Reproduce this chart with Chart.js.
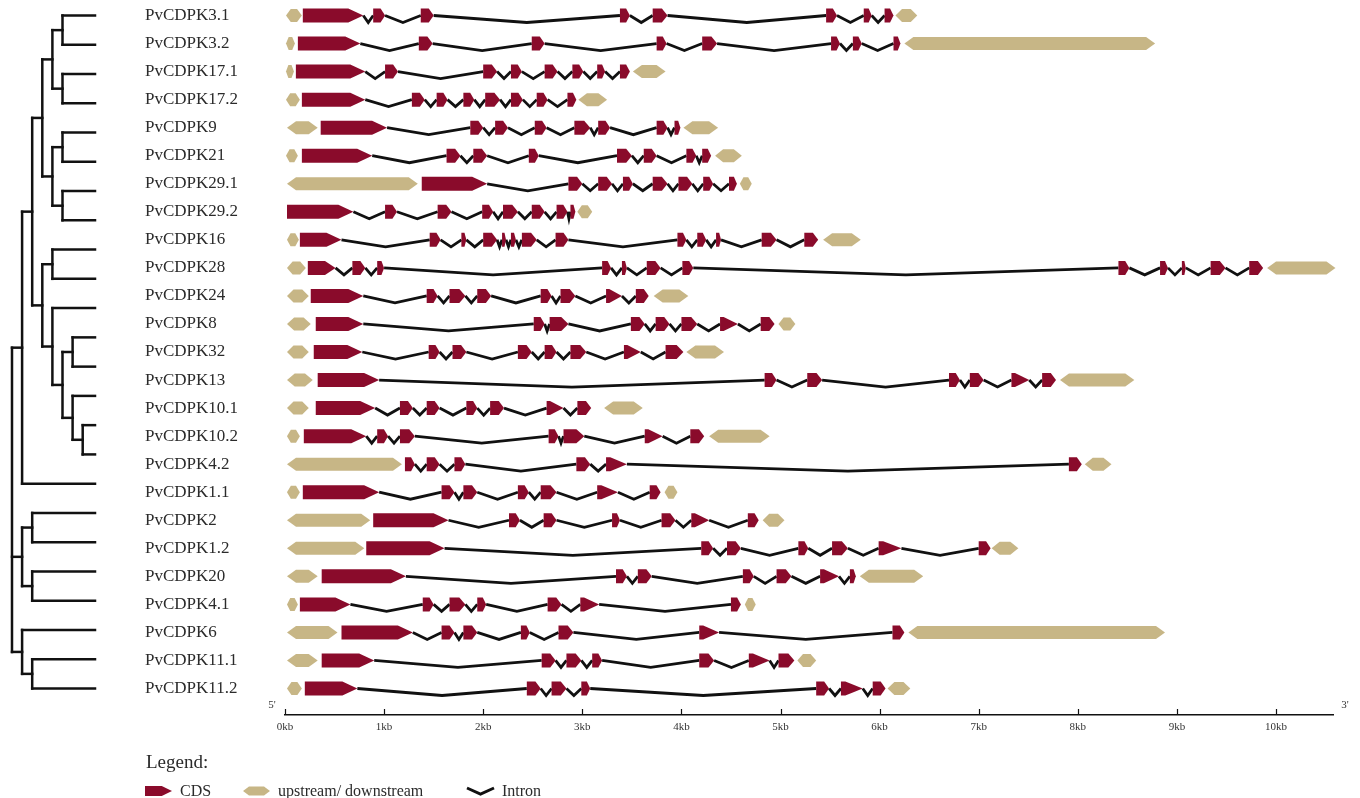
<!DOCTYPE html>
<html>
<head>
<meta charset="utf-8">
<title>PvCDPK gene structures</title>
<script src="https://cdn.jsdelivr.net/npm/chart.js@4.4.1/dist/chart.umd.min.js"></script>
<style>
  html, body { margin: 0; padding: 0; background: #ffffff; }
  #wrap { position: relative; width: 1360px; height: 798px; }
</style>
</head>
<body>
<div id="wrap"><canvas id="geneChart"></canvas></div>
<script>
// ---- gene names, one row each (top to bottom) ----
const genes = [
  'PvCDPK3.1', 'PvCDPK3.2', 'PvCDPK17.1', 'PvCDPK17.2', 'PvCDPK9', 'PvCDPK21',
  'PvCDPK29.1', 'PvCDPK29.2', 'PvCDPK16', 'PvCDPK28', 'PvCDPK24', 'PvCDPK8',
  'PvCDPK32', 'PvCDPK13', 'PvCDPK10.1', 'PvCDPK10.2', 'PvCDPK4.2', 'PvCDPK1.1',
  'PvCDPK2', 'PvCDPK1.2', 'PvCDPK20', 'PvCDPK4.1', 'PvCDPK6', 'PvCDPK11.1', 'PvCDPK11.2'
];

// ---- coding exons per gene, [start, end] in kb ----
const cdsRegions = [
  [[0.18,0.79],[0.89,1.01],[1.37,1.50],[3.38,3.48],[3.71,3.86],[5.46,5.57],[5.84,5.92],[6.05,6.14]],
  [[0.13,0.76],[1.35,1.49],[2.49,2.62],[3.75,3.85],[4.21,4.36],[5.51,5.60],[5.73,5.82],[6.14,6.21]],
  [[0.11,0.81],[1.01,1.14],[2.00,2.14],[2.28,2.39],[2.62,2.75],[2.90,3.01],[3.15,3.23],[3.38,3.48]],
  [[0.17,0.81],[1.28,1.41],[1.53,1.64],[1.80,1.91],[2.02,2.17],[2.28,2.40],[2.54,2.65],[2.85,2.94]],
  [[0.36,1.03],[1.87,2.00],[2.12,2.25],[2.52,2.64],[2.92,3.08],[3.16,3.28],[3.75,3.86],[3.93,3.99]],
  [[0.17,0.88],[1.63,1.77],[1.90,2.04],[2.46,2.56],[3.35,3.50],[3.62,3.75],[4.05,4.15],[4.21,4.30]],
  [[1.38,2.04],[2.86,3.00],[3.16,3.30],[3.41,3.51],[3.71,3.86],[3.97,4.11],[4.22,4.32],[4.48,4.56]],
  [[0.02,0.69],[1.01,1.13],[1.54,1.68],[1.99,2.10],[2.20,2.35],[2.49,2.62],[2.74,2.85],[2.88,2.93]],
  [[0.15,0.57],[1.46,1.57],[1.78,1.83],[2.00,2.14],[2.19,2.23],[2.28,2.33],[2.39,2.54],[2.73,2.86],
   [3.96,4.05],[4.16,4.25],[4.35,4.40],[4.81,4.96],[5.24,5.38]],
  [[0.23,0.51],[0.68,0.81],[0.93,1.00],[3.20,3.29],[3.40,3.45],[3.65,3.79],[4.01,4.12],
   [8.41,8.52],[8.83,8.91],[9.05,9.09],[9.34,9.49],[9.73,9.87]],
  [[0.26,0.79],[1.43,1.54],[1.66,1.82],[1.94,2.08],[2.58,2.69],[2.78,2.93],[3.24,3.40],[3.54,3.67]],
  [[0.31,0.79],[2.51,2.62],[2.67,2.86],[3.49,3.63],[3.74,3.88],[4.00,4.16],[4.39,4.57],[4.80,4.94]],
  [[0.29,0.78],[1.45,1.56],[1.69,1.83],[2.35,2.49],[2.62,2.74],[2.88,3.04],[3.42,3.59],[3.84,4.02]],
  [[0.33,0.95],[4.84,4.96],[5.27,5.42],[6.70,6.81],[6.91,7.05],[7.33,7.51],[7.64,7.78]],
  [[0.31,0.91],[1.16,1.29],[1.43,1.56],[1.83,1.94],[2.07,2.21],[2.64,2.81],[2.95,3.09]],
  [[0.19,0.82],[0.93,1.04],[1.16,1.31],[2.66,2.76],[2.81,3.02],[3.63,3.81],[4.09,4.23]],
  [[1.21,1.31],[1.43,1.56],[1.71,1.82],[2.94,3.08],[3.24,3.45],[7.91,8.04]],
  [[0.18,0.95],[1.58,1.71],[1.80,1.94],[2.35,2.46],[2.58,2.74],[3.15,3.36],[3.68,3.79]],
  [[0.89,1.65],[2.26,2.37],[2.61,2.74],[3.30,3.38],[3.80,3.94],[4.10,4.28],[4.67,4.78]],
  [[0.82,1.61],[4.20,4.32],[4.46,4.60],[5.18,5.28],[5.52,5.68],[5.99,6.22],[7.00,7.12]],
  [[0.37,1.22],[3.34,3.45],[3.56,3.70],[4.62,4.73],[4.96,5.11],[5.40,5.59],[5.70,5.76]],
  [[0.15,0.66],[1.39,1.50],[1.66,1.82],[1.94,2.03],[2.65,2.79],[2.98,3.17],[4.50,4.60]],
  [[0.57,1.29],[1.58,1.71],[1.80,1.94],[2.38,2.47],[2.76,2.91],[4.18,4.38],[6.13,6.25]],
  [[0.37,0.90],[2.59,2.73],[2.84,2.99],[3.10,3.20],[4.18,4.33],[4.68,4.89],[4.98,5.14]],
  [[0.20,0.73],[2.44,2.58],[2.69,2.84],[2.99,3.08],[5.36,5.49],[5.61,5.83],[5.93,6.06]]
];

// index of the exon drawn as a full wedge in each gene (-1: none)
const taperedCds = [-1, -1, -1, -1, -1, -1, -1, -1, -1, -1, 6, 6, 6, 5, 5, 5, 4, 5, 5, 5, 5, 5, 5, 5, 5];

// ---- upstream / downstream regions per gene, [start, end] in kb ----
const utrRegions = [
  [[0.01,0.17],[6.16,6.38]],
  [[0.01,0.10],[6.25,8.78]],
  [[0.01,0.09],[3.51,3.84]],
  [[0.01,0.15],[2.96,3.25]],
  [[0.02,0.33],[4.02,4.37]],
  [[0.01,0.13],[4.34,4.61]],
  [[0.02,1.34],[4.59,4.71]],
  [[2.95,3.10]],
  [[0.02,0.14],[5.43,5.81]],
  [[0.02,0.21],[9.91,10.60]],
  [[0.02,0.24],[3.72,4.07]],
  [[0.02,0.26],[4.98,5.15]],
  [[0.02,0.24],[4.05,4.43]],
  [[0.02,0.28],[7.82,8.57]],
  [[0.02,0.24],[3.22,3.61]],
  [[0.02,0.15],[4.28,4.89]],
  [[0.02,1.18],[8.07,8.34]],
  [[0.02,0.15],[3.83,3.96]],
  [[0.02,0.86],[4.82,5.04]],
  [[0.02,0.80],[7.13,7.40]],
  [[0.02,0.33],[5.80,6.44]],
  [[0.02,0.13],[4.64,4.75]],
  [[0.02,0.53],[6.29,8.88]],
  [[0.02,0.33],[5.17,5.36]],
  [[0.02,0.17],[6.08,6.31]]
];

// ---- cladogram (leaf numbers are tree tip order, top to bottom) ----
const treeTopology = [
  [
    [
      [[[0, 1], [2, 3]], [[4, 5], [6, 7]]],
      [[8, 9], [10, [[11, 12], [13, [14, 15]]]]]
    ],
    16
  ],
  [[17, 18], [19, 20]],
  [21, [22, 23]]
];

// ---- ruler and legend text ----
const tickLabels = ['0kb', '1kb', '2kb', '3kb', '4kb', '5kb', '6kb', '7kb', '8kb', '9kb', '10kb'];
const legendTitle = 'Legend:';
const legendLabels = ['CDS', 'upstream/ downstream', 'Intron'];

// ---------------------------------------------------------------
const CDS_COLOR = '#8a0b2b';
const UTR_COLOR = '#c7b686';
const INK = '#111111';
const SERIF = "'Liberation Serif', 'Times New Roman', serif";

// flatten the per-gene lists into floating-bar records
const cdsData = [];
const utrData = [];
const intronData = [];
cdsRegions.forEach((list, g) => {
  list.forEach(([s, e], k) => cdsData.push({ y: g, x: [s, e], tapered: taperedCds[g] === k }));
  for (let k = 1; k < list.length; k++) {
    intronData.push({ y: g, x: [list[k - 1][1], list[k][0]] });
  }
});
utrRegions.forEach((list, g) => list.forEach(([s, e]) => utrData.push({ y: g, x: [s, e] })));

// ---- shape helpers ----
function cdsPath(ctx, l, r, y, h, tapered) {
  const hh = h / 2, w = r - l;
  const tip = tapered ? w * 0.8 : Math.min(15, w * 0.38);
  ctx.beginPath();
  ctx.moveTo(l, y - hh);
  ctx.lineTo(r - tip, y - hh);
  ctx.lineTo(r, y);
  ctx.lineTo(r - tip, y + hh);
  ctx.lineTo(l, y + hh);
  ctx.closePath();
}
function utrPath(ctx, l, r, y, h, maxTip) {
  const hh = h / 2, w = r - l;
  const tip = Math.min(maxTip, w * 0.3);
  ctx.beginPath();
  ctx.moveTo(l, y);
  ctx.lineTo(l + tip, y - hh);
  ctx.lineTo(r - tip, y - hh);
  ctx.lineTo(r, y);
  ctx.lineTo(r - tip, y + hh);
  ctx.lineTo(l + tip, y + hh);
  ctx.closePath();
}
function intronPath(ctx, l, r, y, dip) {
  ctx.beginPath();
  ctx.moveTo(l, y);
  ctx.lineTo((l + r) / 2, y + dip);
  ctx.lineTo(r, y);
}

// Bar controller whose floating bars are painted as gene features
class GeneTrackController extends Chart.BarController {
  draw() {
    const ctx = this.chart.ctx;
    const ds = this.getDataset();
    const meta = this._cachedMeta;
    ctx.save();
    meta.data.forEach((el, i) => {
      const p = el.getProps(['x', 'y', 'base', 'height'], true);
      const l = Math.min(p.x, p.base), r = Math.max(p.x, p.base);
      if (ds.feature === 'intron') {
        intronPath(ctx, l, r, p.y, 7);
        ctx.strokeStyle = INK;
        ctx.lineWidth = 2.8;
        ctx.lineJoin = 'miter';
        ctx.stroke();
      } else if (ds.feature === 'utr') {
        utrPath(ctx, l, r, p.y, p.height, 9);
        ctx.fillStyle = ds.backgroundColor;
        ctx.fill();
      } else {
        cdsPath(ctx, l, r, p.y, p.height, ds.data[i].tapered);
        ctx.fillStyle = ds.backgroundColor;
        ctx.fill();
      }
    });
    ctx.restore();
  }
}
GeneTrackController.id = 'geneTrack';
Chart.register(GeneTrackController);

// ---- cladogram on the left, leaves spread over the gene rows ----
const treePlugin = {
  id: 'cladogram',
  afterDraw(chart) {
    const ys = chart.scales.y;
    const countLeaves = n => (typeof n === 'number' ? 1 : n.reduce((a, c) => a + countLeaves(c), 0));
    const leaves = countLeaves(treeTopology);
    const leafY = k => ys.getPixelForValue(k * (genes.length - 1) / (leaves - 1));
    const depthX = d => 12 + d * 10.1;
    const tipX = 95;
    const ctx = chart.ctx;
    ctx.save();
    ctx.strokeStyle = INK;
    ctx.lineWidth = 2.5;
    ctx.lineCap = 'square';
    const seg = (x1, y1, x2, y2) => { ctx.beginPath(); ctx.moveTo(x1, y1); ctx.lineTo(x2, y2); ctx.stroke(); };
    const walk = (node, depth) => {
      if (typeof node === 'number') return { x: tipX, y: leafY(node) };
      const x = depthX(depth);
      const kids = node.map(n => walk(n, depth + 1));
      kids.forEach(k => seg(x, k.y, k.x, k.y));
      const y0 = kids[0].y, y1 = kids[kids.length - 1].y;
      seg(x, y0, x, y1);
      return { x, y: (y0 + y1) / 2 };
    };
    walk(treeTopology, 0);
    ctx.restore();
  }
};

// ---- ruler tick marks and 5'/3' ends ----
const rulerPlugin = {
  id: 'ruler',
  afterDraw(chart) {
    const xs = chart.scales.x;
    const ctx = chart.ctx;
    const yLine = chart.chartArea.bottom;
    ctx.save();
    ctx.strokeStyle = INK;
    ctx.lineWidth = 1.2;
    xs.ticks.forEach(t => {
      const px = Math.round(xs.getPixelForValue(t.value)) + 0.5;
      ctx.beginPath();
      ctx.moveTo(px, yLine);
      ctx.lineTo(px, yLine - 6);
      ctx.stroke();
    });
    ctx.fillStyle = '#333';
    ctx.font = '11px ' + SERIF;
    ctx.textBaseline = 'middle';
    ctx.textAlign = 'center';
    ctx.fillText("5'", xs.left - 13, yLine - 10);
    ctx.fillText("3'", xs.right + 12, yLine - 10);
    ctx.restore();
  }
};

// ---- legend block under the ruler ----
const legendPlugin = {
  id: 'geneLegend',
  afterDraw(chart) {
    const ctx = chart.ctx;
    const x0 = 145;
    ctx.save();
    ctx.fillStyle = '#2b2b2b';
    ctx.textBaseline = 'alphabetic';
    ctx.textAlign = 'left';
    ctx.font = '19px ' + SERIF;
    ctx.fillText(legendTitle, x0 + 1, 768);

    const iy = 791;
    ctx.fillStyle = CDS_COLOR;
    cdsPath(ctx, x0, x0 + 27, iy, 10, false);
    ctx.fill();
    ctx.fillStyle = UTR_COLOR;
    utrPath(ctx, x0 + 98, x0 + 125, iy, 9, 6);
    ctx.fill();
    ctx.strokeStyle = INK;
    ctx.lineWidth = 3;
    intronPath(ctx, x0 + 322, x0 + 349, iy - 3, 6);
    ctx.stroke();

    ctx.fillStyle = '#2b2b2b';
    ctx.font = '16px ' + SERIF;
    ctx.fillText(legendLabels[0], x0 + 35, 796);
    ctx.fillText(legendLabels[1], x0 + 133, 796);
    ctx.fillText(legendLabels[2], x0 + 357, 796);
    ctx.restore();
  }
};

new Chart(document.getElementById('geneChart'), {
  type: 'geneTrack',
  data: {
    datasets: [
      { label: 'CDS', feature: 'cds', data: cdsData, backgroundColor: CDS_COLOR, barThickness: 14, clip: false },
      { label: 'upstream/ downstream', feature: 'utr', data: utrData, backgroundColor: UTR_COLOR, barThickness: 13, clip: false },
      { label: 'Intron', feature: 'intron', data: intronData, backgroundColor: INK, barThickness: 14, clip: false }
    ]
  },
  options: {
    indexAxis: 'y',
    responsive: true,
    maintainAspectRatio: false,
    animation: false,
    grouped: false,
    layout: { padding: { left: 145, right: 27, top: 0, bottom: 53 } },
    scales: {
      x: {
        type: 'linear',
        position: 'bottom',
        bounds: 'data',
        min: 0,
        max: 10.575,
        offset: false,
        afterBuildTicks: s => { s.ticks = tickLabels.map((_, i) => ({ value: i })); },
        afterFit: s => { s.height = 30; s.paddingLeft = 0; s.paddingRight = 0; },
        grid: { display: true, drawOnChartArea: false, drawTicks: false },
        border: { display: true, color: INK, width: 1.4 },
        ticks: {
          autoSkip: false,
          maxRotation: 0,
          padding: 6,
          color: '#333',
          font: { family: SERIF, size: 11 },
          callback: (v, i) => tickLabels[i]
        }
      },
      y: {
        type: 'linear',
        position: 'left',
        reverse: true,
        bounds: 'data',
        min: -0.553,
        max: 24.945,
        offset: false,
        afterBuildTicks: s => { s.ticks = genes.map((_, i) => ({ value: i })); },
        afterFit: s => { s.width = 140; s.paddingTop = 0; s.paddingBottom = 0; },
        grid: { display: false, offset: false },
        border: { display: false },
        ticks: {
          autoSkip: false,
          crossAlign: 'far',
          padding: 0,
          color: '#2b2b2b',
          font: { family: SERIF, size: 17 },
          callback: (v, i) => genes[i]
        }
      }
    },
    plugins: {
      legend: { display: false },
      tooltip: { enabled: false }
    }
  },
  plugins: [treePlugin, rulerPlugin, legendPlugin]
});
</script>
</body>
</html>
